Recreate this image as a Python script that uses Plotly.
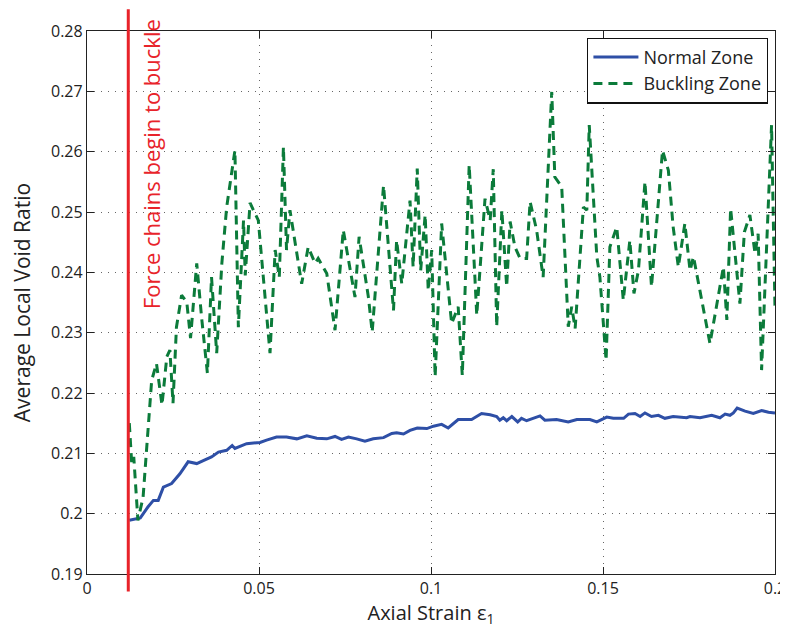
import plotly.graph_objects as go

# ---------------- data ----------------
normal_strain = [0.0123, 0.0155, 0.0177, 0.0193, 0.0207, 0.0222, 0.0246, 0.0270, 0.0294, 0.0319,
                 0.0338, 0.0362, 0.0382, 0.0406, 0.0422, 0.0430, 0.0464, 0.0503, 0.0522, 0.0551,
                 0.0580, 0.0610, 0.0639, 0.0668, 0.0697, 0.0721, 0.0740, 0.0760, 0.0784, 0.0808,
                 0.0832, 0.0862, 0.0886, 0.0900, 0.0920, 0.0939, 0.0960, 0.0988, 0.1007, 0.1031,
                 0.1050, 0.1079, 0.1118, 0.1147, 0.1172, 0.1191, 0.1200, 0.1210, 0.1220, 0.1235,
                 0.1252, 0.1263, 0.1278, 0.1288, 0.1317, 0.1331, 0.1365, 0.1399, 0.1424, 0.1462,
                 0.1482, 0.1511, 0.1530, 0.1560, 0.1574, 0.1593, 0.1608, 0.1622, 0.1641, 0.1661,
                 0.1680, 0.1704, 0.1743, 0.1753, 0.1782, 0.1816, 0.1840, 0.1855, 0.1869, 0.1879,
                 0.1890, 0.1913, 0.1937, 0.1961, 0.1981, 0.2000]
normal_void = [0.1989, 0.1993, 0.2011, 0.2022, 0.2022, 0.2044, 0.2050, 0.2066, 0.2086, 0.2083,
               0.2088, 0.2094, 0.2102, 0.2105, 0.2113, 0.2108, 0.2116, 0.2118, 0.2122, 0.2127,
               0.2127, 0.2124, 0.2129, 0.2125, 0.2124, 0.2128, 0.2123, 0.2127, 0.2124, 0.2120,
               0.2124, 0.2126, 0.2133, 0.2134, 0.2132, 0.2138, 0.2142, 0.2141, 0.2145, 0.2148,
               0.2142, 0.2156, 0.2156, 0.2166, 0.2164, 0.2161, 0.2155, 0.2159, 0.2154, 0.2161,
               0.2152, 0.2158, 0.2154, 0.2156, 0.2162, 0.2155, 0.2156, 0.2152, 0.2156, 0.2156,
               0.2152, 0.2160, 0.2158, 0.2158, 0.2165, 0.2166, 0.2161, 0.2167, 0.2161, 0.2163,
               0.2158, 0.2161, 0.2159, 0.2161, 0.2159, 0.2163, 0.2159, 0.2165, 0.2163, 0.2167,
               0.2175, 0.2170, 0.2166, 0.2171, 0.2168, 0.2167]

buckling_strain = [0.0123, 0.0130, 0.0136, 0.0148, 0.0163, 0.0177, 0.0188, 0.0202, 0.0218, 0.0232,
                   0.0241, 0.0250, 0.0260, 0.0275, 0.0290, 0.0301, 0.0319, 0.0333, 0.0350, 0.0362,
                   0.0377, 0.0392, 0.0406, 0.0430, 0.0440, 0.0455, 0.0460, 0.0474, 0.0498, 0.0532,
                   0.0547, 0.0559, 0.0571, 0.0580, 0.0590, 0.0624, 0.0643, 0.0663, 0.0672, 0.0697,
                   0.0721, 0.0745, 0.0779, 0.0791, 0.0818, 0.0829, 0.0862, 0.0891, 0.0900, 0.0915,
                   0.0939, 0.0948, 0.0960, 0.0970, 0.0983, 0.0992, 0.1002, 0.1012, 0.1031, 0.1060,
                   0.1079, 0.1091, 0.1111, 0.1128, 0.1133, 0.1157, 0.1172, 0.1181, 0.1191, 0.1206,
                   0.1220, 0.1230, 0.1244, 0.1259, 0.1278, 0.1288, 0.1307, 0.1326, 0.1351, 0.1360,
                   0.1380, 0.1399, 0.1409, 0.1419, 0.1443, 0.1453, 0.1460, 0.1482, 0.1491, 0.1509,
                   0.1520, 0.1540, 0.1559, 0.1578, 0.1590, 0.1603, 0.1622, 0.1641, 0.1673, 0.1690,
                   0.1704, 0.1719, 0.1738, 0.1753, 0.1763, 0.1811, 0.1850, 0.1860, 0.1871, 0.1898,
                   0.1911, 0.1927, 0.1942, 0.1951, 0.1961, 0.1990, 0.2000]
buckling_void = [0.2150, 0.2083, 0.2094, 0.1989, 0.2027, 0.2138, 0.2221, 0.2249, 0.2180, 0.2260,
                 0.2271, 0.2183, 0.2309, 0.2362, 0.2351, 0.2291, 0.2415, 0.2326, 0.2233, 0.2392,
                 0.2266, 0.2415, 0.2508, 0.2602, 0.2309, 0.2486, 0.2395, 0.2515, 0.2486, 0.2266,
                 0.2437, 0.2392, 0.2608, 0.2437, 0.2503, 0.2381, 0.2442, 0.2415, 0.2423, 0.2398,
                 0.2304, 0.2470, 0.2359, 0.2459, 0.2359, 0.2301, 0.2544, 0.2337, 0.2453, 0.2381,
                 0.2519, 0.2409, 0.2572, 0.2403, 0.2495, 0.2370, 0.2437, 0.2227, 0.2481, 0.2315,
                 0.2343, 0.2229, 0.2578, 0.2387, 0.2329, 0.2522, 0.2486, 0.2571, 0.2310, 0.2503,
                 0.2376, 0.2484, 0.2442, 0.2423, 0.2423, 0.2517, 0.2470, 0.2392, 0.2699, 0.2558,
                 0.2542, 0.2310, 0.2343, 0.2307, 0.2508, 0.2503, 0.2644, 0.2426, 0.2392, 0.2254,
                 0.2442, 0.2475, 0.2354, 0.2453, 0.2365, 0.2403, 0.2550, 0.2376, 0.2602, 0.2569,
                 0.2475, 0.2409, 0.2481, 0.2403, 0.2426, 0.2282, 0.2409, 0.2321, 0.2506, 0.2348,
                 0.2467, 0.2495, 0.2431, 0.2464, 0.2238, 0.2644, 0.2340]

buckle_strain = 0.012
buckle_label = "Force chains begin to buckle"

x_tickvals = [0, 0.05, 0.1, 0.15, 0.2]
x_ticktext = ["0", "0.05", "0.1", "0.15", "0.2"]
y_tickvals = [0.19, 0.20, 0.21, 0.22, 0.23, 0.24, 0.25, 0.26, 0.27, 0.28]
y_ticktext = ["0.19", "0.2", "0.21", "0.22", "0.23", "0.24", "0.25", "0.26", "0.27", "0.28"]

# ---------------- figure ----------------
FONT = "Open Sans"
fig = go.Figure()

fig.add_trace(go.Scatter(
    x=normal_strain, y=normal_void, mode="lines", name="Normal Zone",
    line=dict(color="#2E4FA6", width=3)))
fig.add_trace(go.Scatter(
    x=buckling_strain, y=buckling_void, mode="lines", name="Buckling Zone",
    line=dict(color="#0B7B3A", width=3, dash="9px,6px")))

# red vertical marker line (extends beyond the axes like the original)
fig.add_shape(type="line", xref="x", yref="paper",
              x0=buckle_strain, x1=buckle_strain, y0=-0.032, y1=1.04,
              line=dict(color="#E8232A", width=3))
fig.add_annotation(x=buckle_strain, xref="x", y=1.026, yref="paper",
                   text=buckle_label, textangle=-90, showarrow=False,
                   xanchor="left", yanchor="top", xshift=6,
                   font=dict(family=FONT, size=22, color="#E8232A"))

axis_common = dict(
    showline=True, linecolor="#222", linewidth=1.3, mirror="ticks",
    ticks="inside", ticklen=7, tickcolor="#222", tickwidth=1,
    showgrid=True, gridcolor="#666", griddash="1px,6px", gridwidth=1.2,
    zeroline=False, tickfont=dict(family=FONT, size=16, color="#222"),
    automargin=False, ticklabeloverflow="allow",
)

fig.update_xaxes(range=[0, 0.2], tickvals=x_tickvals, ticktext=x_ticktext,
                 title=dict(text="Axial Strain ε<sub>1</sub>",
                            font=dict(family=FONT, size=20, color="#222"), standoff=4),
                 **axis_common)
fig.update_yaxes(range=[0.19, 0.28], tickvals=y_tickvals, ticktext=y_ticktext,
                 title=dict(text="Average Local Void Ratio",
                            font=dict(family=FONT, size=21, color="#222"), standoff=14),
                 **axis_common)

# the page body adds an 8px offset, so the figure is sized to sit inside the window
fig.update_layout(
    width=780, height=620,
    margin=dict(l=79, r=13, t=23, b=54),
    paper_bgcolor="white", plot_bgcolor="white",
    showlegend=True,
    legend=dict(x=0.990, y=0.988, xanchor="right", yanchor="top",
                bgcolor="white", bordercolor="#111", borderwidth=1.3,
                font=dict(family=FONT, size=18, color="#222"),
                tracegroupgap=0, itemwidth=45),
)

fig.write_html("out.html")
